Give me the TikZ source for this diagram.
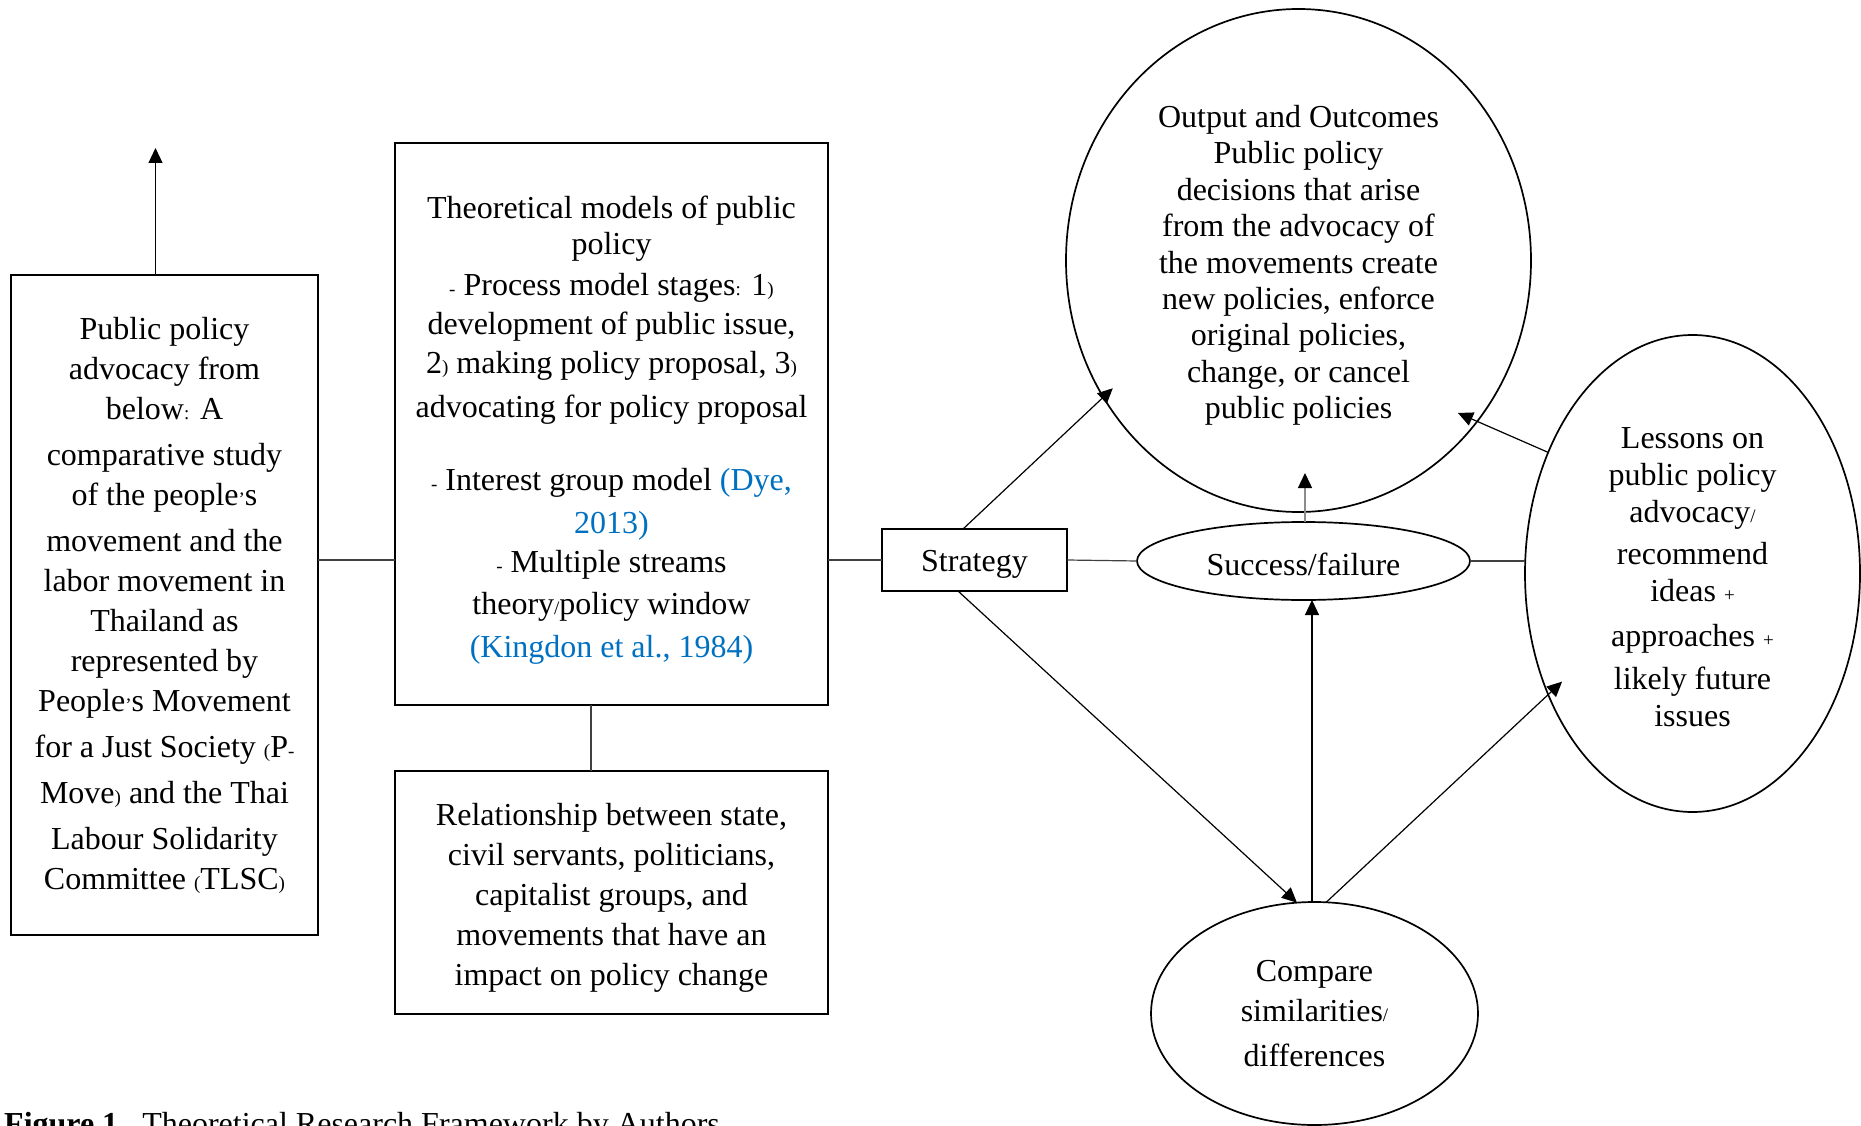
\documentclass[tikz,border=0pt]{standalone}
\usepackage{fontspec}
\setmainfont{Liberation Serif}
\usetikzlibrary{arrows.meta,shapes.geometric}
\definecolor{citeblue}{RGB}{0,112,192}
% small punctuation set in a reduced size
\newcommand\sm[1]{{\fontsize{19}{19}\selectfont #1}}
\newcommand\citeref[1]{{\color{citeblue}#1}}
% invisible strut that lowers the first line of a text block
\newcommand\lift[1]{\rule{0pt}{#1}}

\begin{document}
\begin{tikzpicture}[x=1pt,y=-1pt,
  box/.style={draw, line width=1.7pt, rectangle, inner sep=0pt, outer sep=0pt, align=center},
  oval/.style={draw, line width=1.7pt, ellipse, inner sep=0pt, outer sep=0pt, align=center},
  link/.style={draw=black!75, line width=1.2pt},
  arr/.style={draw=black, line width=1.2pt, -{Triangle[length=15pt,width=14pt]}},
  greyarr/.style={draw=black!45, line width=1.4pt, -{Triangle[length=15pt,width=14pt,color=black]}},
]
\useasboundingbox (0,0) rectangle (1861,1126);

% ---------- boxes ----------
\node[box, minimum width=307pt, minimum height=660pt,
      font=\fontsize{32}{40}\selectfont] (left) at (164.5,605) {%
Public policy\\
advocacy from\\
below\sm{:} A\\[6pt]
comparative study\\
of the people\sm{'}s\\[6pt]
movement and the\\
labor movement in\\
Thailand as\\
represented by\\
People\sm{'}s Movement\\[6pt]
for a Just Society \sm{(}P\sm{-}\\[6pt]
Move\sm{)} and the Thai\\[6pt]
Labour Solidarity\\
Committee \sm{(}TLSC\sm{)}};

\node[box, minimum width=433pt, minimum height=562pt,
      font=\fontsize{32}{39}\selectfont] (mid) at (611.5,424) {%
\lift{34pt}Theoretical models of public\\[-3pt]
policy\\[2.5pt]
\sm{-} Process model stages\sm{:} 1\sm{)}\\
development of public issue,\\
2\sm{)} making policy proposal, 3\sm{)}\\[5pt]
advocating for policy proposal\\[34pt]
\sm{-} Interest group model \citeref{(Dye,}\\[3.5pt]
\citeref{2013)}\\
\sm{-} Multiple streams\\[3.5pt]
theory\sm{/}policy window\\[3.5pt]
\citeref{(Kingdon et al., 1984)}};

\node[box, minimum width=433pt, minimum height=243pt,
      font=\fontsize{32}{40}\selectfont] (rel) at (611.5,892.5) {%
\lift{32pt}Relationship between state,\\
civil servants, politicians,\\
capitalist groups, and\\
movements that have an\\
impact on policy change};

\node[box, minimum width=185pt, minimum height=62pt,
      font=\fontsize{32}{38}\selectfont] (strat) at (974.5,560) {\lift{29pt}Strategy};

% ---------- ellipses ----------
\node[oval, minimum width=333pt, minimum height=78pt,
      font=\fontsize{32}{38}\selectfont] (succ) at (1303.5,561) {\lift{29pt}Success/failure};

\node[oval, minimum width=465pt, minimum height=503pt,
      font=\fontsize{32}{36.4}\selectfont] (out) at (1298.5,260.5) {%
\lift{32pt}Output and Outcomes\\
Public policy\\
decisions that arise\\
from the advocacy of\\
the movements create\\
new policies, enforce\\
original policies,\\
change, or cancel\\
public policies};

\node[oval, minimum width=335pt, minimum height=477pt,
      font=\fontsize{32}{37}\selectfont] (less) at (1692.5,573.5) {%
\lift{29pt}Lessons on\\
public policy\\
advocacy\sm{/}\\[5pt]
recommend\\
ideas \sm{+}\\[8pt]
approaches \sm{+}\\[6pt]
likely future\\
issues};

\node[oval, minimum width=327pt, minimum height=223pt,
      font=\fontsize{32}{40}\selectfont] (comp) at (1314.5,1013.5) {%
Compare\\
similarities\sm{/}\\[5pt]
differences};

% ---------- caption ----------
\node[anchor=base west, inner sep=0pt, font=\fontsize{32}{38}\selectfont]
  (cap) at (4,1134) {\textbf{Figure 1.}\ \ Theoretical Research Framework by Authors};

% ---------- connectors ----------
\coordinate (upTip) at (155.5,148);
\draw[arr] ([xshift=-9pt]left.north) -- ([xshift=-9pt]left.north |- upTip);

\draw[link] (left.east |- strat) -- (mid.west |- strat);
\draw[link] (mid.east |- strat) -- (strat.west);
\draw[link] ([xshift=-20.5pt]mid.south) -- ([xshift=-20.5pt]rel.north);
\draw[link] (strat.east) -- (succ.west);
\draw[link] (succ.east) -- (succ.east -| less.west);

\draw[arr, shorten >=-13pt] ([xshift=-11.5pt]strat.north) -- (out.215.3);
\coordinate (sfTip) at (1305,473);
\draw[greyarr] ([xshift=1.5pt]succ.north) -- ([xshift=1.5pt]succ.north |- sfTip);
\draw[arr, shorten >=-21pt] (less.140) -- (out.318.7);

\draw[arr] ([xshift=-16.5pt]strat.south) -- (comp.99);
\draw[arr] ([xshift=-2.5pt]comp.north) -- ([xshift=-2.5pt]comp.north |- succ.south);
\draw[arr, shorten >=-19pt] (comp.84) -- (less.220.9);

\end{tikzpicture}
\end{document}
